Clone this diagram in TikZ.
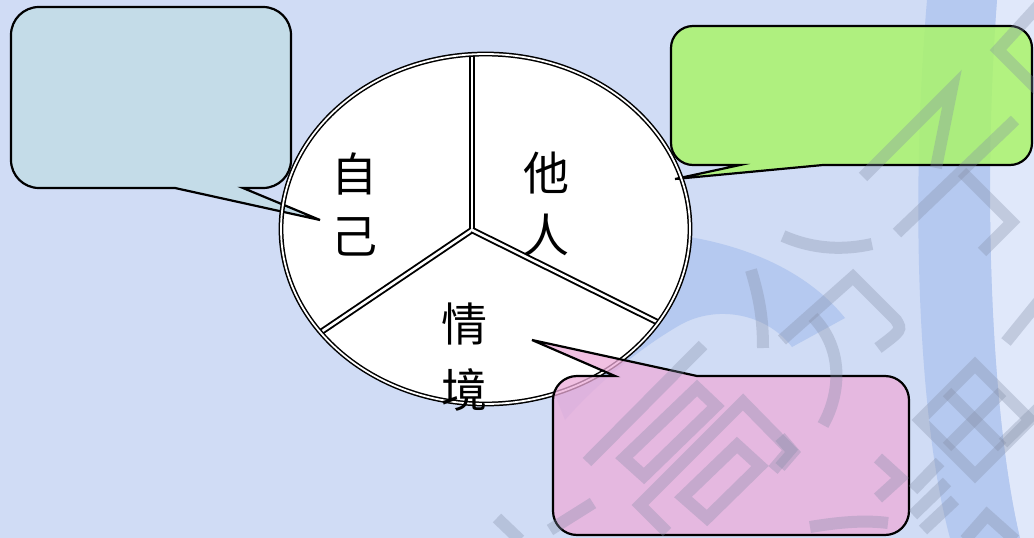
\documentclass[tikz,border=0pt]{standalone}
\usepackage{fontspec}
\newfontfamily\cjk{Noto Sans CJK SC}
\usetikzlibrary{shapes.geometric}
\definecolor{bgc}{RGB}{208,220,245}
\definecolor{bandc}{RGB}{181,201,240}
\definecolor{lightc}{RGB}{224,232,250}
\definecolor{bluebox}{RGB}{196,220,232}
\definecolor{greenbox}{RGB}{170,244,107}
\definecolor{pinkbox}{RGB}{237,172,217}
\definecolor{wmc}{RGB}{130,140,165}
\tikzset{
  wm/.style={draw=wmc, draw opacity=0.32, line width=12pt, line cap=butt, line join=miter},
  callout/.style={draw=black, line width=2.2pt, line join=miter},
  dbl/.style={draw=black, double=white, line width=1.5pt, double distance=1.8pt},
  divline/.style={draw=black, double=white, line width=1.9pt, double distance=2.6pt},
  lbl/.style={font=\cjk\fontsize{46}{62}\selectfont, align=center, inner sep=0pt}
}
\begin{document}
\begin{tikzpicture}[x=1pt,y=-1pt]
\useasboundingbox (0,0) rectangle (1034,538);
% background
\fill[bgc] (0,0) rectangle (1034,538);
\fill[lightc] (997,0) -- (1034,0) -- (1034,538) -- (1020,538) .. controls (992,420) and (982,200) .. (997,0) -- cycle;
\fill[bandc] (927,0) -- (997,0) .. controls (982,200) and (992,420) .. (1020,538) -- (950,538) .. controls (918,420) and (910,200) .. (927,0) -- cycle;
\fill[bandc] (640,232) .. controls (720,235) and (800,262) .. (845,318) -- (792,347) .. controls (765,312) and (715,305) .. (680,325) .. controls (645,345) and (600,380) .. (565,420) -- (555,395) .. controls (590,330) and (600,260) .. (640,232) -- cycle;

% ellipse fill
\node[ellipse, fill=white, minimum width=409pt, minimum height=350pt, inner sep=0pt, outer sep=0pt] (circ) at (485.5,229) {};

% blue callout
\coordinate (t1) at (320,220);
\path[callout, fill=bluebox] (39,7) -- (263,7) .. controls (278.5,7) and (291,19.5) .. (291,35) -- (291,160) .. controls (291,175.5) and (278.5,188) .. (263,188) -- (243,188) -- (t1) -- (175,188) -- (39,188) .. controls (23.5,188) and (11,175.5) .. (11,160) -- (11,35) .. controls (11,19.5) and (23.5,7) .. (39,7) -- cycle;

% green callout
\coordinate (t2) at (675,179);
\path[callout, fill=greenbox, fill opacity=0.85] (693,26) -- (1010,26) .. controls (1022.1,26) and (1032,35.9) .. (1032,48) -- (1032,143) .. controls (1032,155.1) and (1022.1,165) .. (1010,165) -- (823,165) -- (t2) -- (740,165) -- (693,165) .. controls (680.9,165) and (671,155.1) .. (671,143) -- (671,48) .. controls (671,35.9) and (680.9,26) .. (693,26) -- cycle;

% dividers and ellipse outline
\coordinate (J) at (472,230);
\coordinate (dtop) at (472,54);
\coordinate (dleft) at (321,332);
\coordinate (dright) at (657,322);
\draw[divline] (J) -- (dtop);
\draw[divline] (J) -- (dleft);
\draw[divline] (J) -- (dright);
\fill[white] (J) circle (1.7pt);
\node[ellipse, dbl, minimum width=409pt, minimum height=350pt, inner sep=0pt, outer sep=0pt] (circo) at (485.5,229) {};

% labels
\node[lbl] (self) at (354,204) {自\\己};
\node[lbl] (other) at (546,204) {他\\人};
\node[lbl, font=\cjk\fontsize{46}{66}\selectfont] (ctx) at (464,357) {情\\境};

% pink callout
\coordinate (t3) at (532,340);
\path[callout, fill=pinkbox, fill opacity=0.75] (577,376) -- (615,376) -- (t3) -- (697,376) -- (885,376) .. controls (898.25,376) and (909,386.75) .. (909,400) -- (909,511) .. controls (909,524.25) and (898.25,535) .. (885,535) -- (577,535) .. controls (563.75,535) and (553,524.25) .. (553,511) -- (553,400) .. controls (553,386.75) and (563.75,376) .. (577,376) -- cycle;

% watermark strokes
\draw[wm] (863,177) -- (952,88) -- (936,168);
\draw[wm] (897,233) -- (1015,120);
\draw[wm] (962,172) -- (1012,222) -- (982,252);
\draw[wm] (1040,4) -- (998,50) -- (1040,92);
\draw[wm] (1006,342) -- (1040,300);
\draw[wm] (783,236) .. controls (815,250) and (845,250) .. (872,244);
\draw[wm] (751,270) .. controls (760,300) and (763,320) .. (763,348);
\draw[wm] (782,340) -- (853,277) -- (896,320) .. controls (902,330) .. (878,348);
\draw[wm] (813,317) .. controls (845,350) and (840,395) .. (823,425);
\draw[wm] (975,365) -- (1030,420) -- (975,475) -- (920,420) -- cycle;
\draw[wm] (947,392) -- (1002,447);
\draw[wm] (1002,392) -- (947,447);
\draw[wm] (1003,443) -- (1040,407);
\draw[wm] (878,458) -- (900,478) -- (878,498);
\draw[wm] (913,490) -- (940,462);
\draw[wm] (913,515) -- (947,482);
\draw[wm] (923,530) -- (955,500);
\draw[wm] (965,540) -- (987,515) -- (1015,540);
\draw[wm] (810,527) .. controls (840,522) and (865,520) .. (888,523);
\draw[wm] (780,437) -- (793,452) -- (780,467);
\draw[wm] (587,462) -- (703,345);
\draw[wm] (624,458) -- (697,388) -- (716,406) -- (644,476) -- cycle;
\draw[wm] (667,532) -- (640,505) -- (743,402) -- (790,450) -- (773,470);
\draw[wm] (683,497) -- (737,445) -- (760,466) -- (707,518) -- cycle;
\draw[wm] (550,530) -- (593,503);
\draw[wm] (497,518) -- (520,540);
\end{tikzpicture}
\end{document}
